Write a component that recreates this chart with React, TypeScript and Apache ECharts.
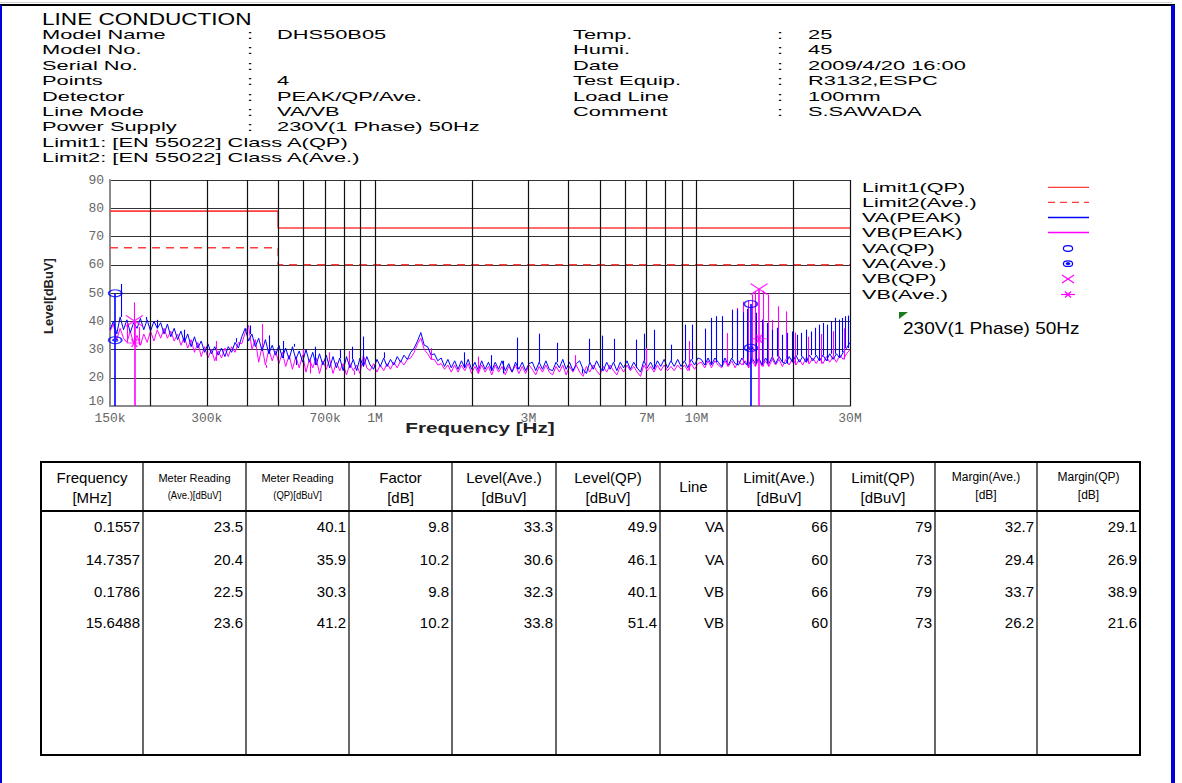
import React, { useEffect, useRef } from "react";
import * as echarts from "echarts";

// ---------------- DATA ----------------
const SWEEP_START_MHZ = 0.15;
const SWEEP_STOP_MHZ = 30;

// VA (PEAK) sweep levels, dBuV (log-spaced sweep points)
const VA_PEAK = [
  37, 40, 35.5, 41.5, 37, 40.5, 36, 39.5, 37.5, 41,
  37, 40.5, 36.5, 40, 37.5, 39.5, 35.5, 39, 34.5, 37.5,
  33.5, 36.5, 32.5, 35.5, 31, 34.5, 30.5, 33, 29, 32,
  28.5, 31, 28, 30.5, 27.5, 31, 29, 32.5, 30.5, 34.5,
  37.5, 33, 35.5, 31, 34, 29.5, 33.5, 28.5, 31.5, 28,
  31.5, 27, 30.5, 26.5, 31, 26.5, 29.5, 25.5, 30, 25.5,
  29, 24.5, 28.5, 24.5, 28, 23.5, 27.5, 23.5, 27, 22.5,
  27.5, 23.5, 26.5, 22.5, 27, 24, 27.5, 24.5, 23, 26.5,
  24, 27, 24, 26.5, 24.5, 27.5, 25.5, 28, 26.5, 29,
  30.5, 33, 36, 31.5, 31, 28, 28.5, 26, 27, 24,
  26.5, 23.5, 26, 23, 26, 23.5, 26.5, 23, 25.5, 22.5,
  26, 23, 25.5, 22.5, 25.5, 23, 26, 22.5, 25, 22,
  25.5, 23, 25.5, 22.5, 25, 25.5, 22.5, 25.5, 23, 26,
  23, 22.5, 25.5, 23.5, 26.5, 23, 25.5, 22.5, 25, 26,
  23, 21.5, 25.5, 23, 26, 23.5, 22.5, 25.5, 23, 25.5,
  22.5, 25.5, 23.5, 26, 23, 25.5, 23.5, 22, 26, 23.5,
  25.5, 23, 26, 24, 26.5, 23.5, 26, 24, 26.5, 24,
  26, 23.5, 26.5, 24.5, 27, 26.5, 24.5, 27, 24.5, 27,
  25.5, 24, 27, 24.5, 27, 25, 24.5, 27, 25, 24.5,
  27, 25, 27, 24.5, 27, 25, 27.5, 25, 27.5, 25.5,
  25, 27.5, 25.5, 28, 25.5, 27.5, 25.5, 28, 26, 28,
  26, 28, 26, 28.5, 26.5, 28.5, 27, 29, 30.5, 32.5,
];

// VB (PEAK) sweep levels, dBuV
const VB_PEAK = [
  36.5, 39, 33.5, 37.5, 34, 32.5, 36.5, 32, 35, 31.5,
  35.5, 32.5, 36.5, 33, 37, 34, 37.5, 34, 36.5, 33,
  35.5, 31.5, 34.5, 30.5, 33.5, 29, 32.5, 27.5, 31, 27,
  30, 26, 29.5, 27, 30.5, 27.5, 31, 29, 32.5, 32,
  36, 38.5, 30, 33.5, 25.5, 31, 24.5, 30, 26, 29.5,
  25, 29, 24, 28, 23, 27.5, 23.5, 28, 22, 26.5,
  23.5, 27, 21.5, 26, 23, 26.5, 21.5, 25.5, 22.5, 25,
  21, 25, 22.5, 24.5, 21.5, 28, 23.5, 22.5, 25, 22,
  24.5, 22.5, 25, 23, 25.5, 23.5, 26, 24.5, 26.5, 27,
  29, 32, 34, 30, 28.5, 26.5, 26.5, 24.5, 25, 23,
  24.5, 22, 24.5, 22, 24.5, 22.5, 25, 21.5, 24, 21.5,
  24.5, 22, 24, 21, 24.5, 22, 24, 21, 24, 22,
  24.5, 21.5, 24, 21.5, 24.5, 23, 21, 24, 22, 24.5,
  22, 21, 24, 22, 24.5, 21, 24, 22, 24.5, 22,
  20.5, 24, 22, 24.5, 22.5, 21, 24, 22, 24.5, 22.5,
  21, 24, 22, 24.5, 22.5, 24, 22, 20.5, 24.5, 22.5,
  24, 22, 24.5, 22.5, 24.5, 22.5, 24, 22.5, 24.5, 23,
  24.5, 22.5, 25, 23, 25, 25.5, 23.5, 26, 23.5, 26,
  24.5, 23.5, 26, 24, 26, 23.5, 26, 24.5, 26, 23.5,
  26, 24, 26.5, 24, 26, 24, 26.5, 24.5, 26.5, 24,
  26.5, 24.5, 27, 24.5, 26.5, 24.5, 27, 25, 27, 25,
  27, 25, 27.5, 25.5, 27.5, 25.5, 28, 26.5, 28.5, 30,
];

// narrow peaks / dips [MHz, dBuV]
const VA_SPIKES = [
  [0.163, 53.2], [0.195, 41.5], [0.21, 40.5], [0.255, 37], [0.37, 34],
  [0.41, 38.5], [0.47, 35], [0.52, 33], [0.56, 32], [0.57, 24.5],
  [0.65, 31], [0.78, 30], [0.85, 31], [0.918, 34.6], [1.07, 29],
  [1.9, 29], [2.3, 28], [2.5, 21.5], [2.77, 34.2], [3.24, 35.6],
  [3.68, 32.4], [4.4, 21.5], [4.63, 33.8], [5.08, 34.9], [5.54, 33.8],
  [6.48, 33.5], [6.86, 35.6], [7.37, 37.0], [8.33, 31.7], [9.25, 38.8],
  [9.7, 38.8], [10.62, 37.4], [11.07, 41.2], [11.55, 41.8], [12.03, 41.8],
  [12.92, 44.1], [13.42, 44.1], [13.92, 43.2], [14.42, 44.4], [15.38, 43.0],
  [16.0, 40.6], [16.6, 39.4], [17.25, 37.0], [17.88, 37.7], [18.53, 35.2],
  [19.15, 35.9], [19.9, 36.4], [20.6, 35.2], [21.2, 35.9], [22.0, 37.0],
  [22.7, 36.4], [23.4, 37.7], [24.1, 38.8], [24.8, 39.4], [25.5, 38.8],
  [26.2, 40.0], [27.0, 41.2], [27.7, 40.6], [28.4, 41.2], [29.1, 41.8],
  [29.6, 42.0],
];
const VB_SPIKES = [
  [0.17, 39.5], [0.1786, 46.7], [0.185, 38], [0.32, 33], [0.445, 39],
  [0.46, 23.5], [0.6, 30], [0.63, 21.5], [0.72, 29], [0.83, 29.5],
  [0.86, 21], [1.5, 30.5], [2.1, 27.5], [4.2, 28], [7.0, 30.5],
  [9.5, 33.0], [12.5, 35.8], [13.42, 44.7], [13.95, 46.9], [14.45, 47.5],
  [14.9, 49.5], [15.25, 50.5], [16.1, 50.8], [16.7, 49.5], [17.25, 40.5],
  [17.9, 45.3], [19.0, 43.5], [20.3, 36.0], [22.3, 34.5], [24.5, 35.5],
  [26.6, 36.5], [28.7, 37.5],
];

const LIMIT1_QP = [[0.15, 79], [0.5, 79], [0.5, 73], [30, 73]];
const LIMIT2_AVE = [[0.15, 66], [0.5, 66], [0.5, 60], [30, 60]];

const X_GRID_MHZ = [0.2, 0.3, 0.4, 0.5, 0.6, 0.7, 0.8, 0.9, 1, 2, 3, 4, 5, 6, 7, 8, 9, 10, 20, 30];
const X_LABELS_MHZ = [0.15, 0.3, 0.7, 1, 3, 7, 10, 30];
const Y_MIN = 10;
const Y_MAX = 90;
const Y_STEP = 10;

// result table
const T_FREQ = [0.1557, 14.7357, 0.1786, 15.6488];
const T_METER_AVE = [23.5, 20.4, 22.5, 23.6];
const T_METER_QP = [40.1, 35.9, 30.3, 41.2];
const T_FACTOR = [9.8, 10.2, 9.8, 10.2];
const T_LEVEL_AVE = [33.3, 30.6, 32.3, 33.8];
const T_LEVEL_QP = [49.9, 46.1, 40.1, 51.4];
const T_LINE = ["VA", "VA", "VB", "VB"];
const T_LIMIT_AVE = [66, 60, 66, 60];
const T_LIMIT_QP = [79, 73, 79, 73];
const T_MARGIN_AVE = [32.7, 29.4, 33.7, 26.2];
const T_MARGIN_QP = [29.1, 26.9, 38.9, 21.6];

const TABLE_HEAD = [
  ["Frequency", "[MHz]"],
  ["Meter Reading", "(Ave.)[dBuV]"],
  ["Meter Reading", "(QP)[dBuV]"],
  ["Factor", "[dB]"],
  ["Level(Ave.)", "[dBuV]"],
  ["Level(QP)", "[dBuV]"],
  ["Line"],
  ["Limit(Ave.)", "[dBuV]"],
  ["Limit(QP)", "[dBuV]"],
  ["Margin(Ave.)", "[dB]"],
  ["Margin(QP)", "[dB]"],
];

const HEADER_LEFT_LABELS = ["Model Name", "Model No.", "Serial No.", "Points", "Detector", "Line Mode", "Power Supply"];
const HEADER_LEFT_VALUES = ["DHS50B05", "", "", "4", "PEAK/QP/Ave.", "VA/VB", "230V(1 Phase) 50Hz"];
const HEADER_RIGHT_LABELS = ["Temp.", "Humi.", "Date", "Test Equip.", "Load Line", "Comment"];
const HEADER_RIGHT_VALUES = ["25", "45", "2009/4/20 16:00", "R3132,ESPC", "100mm", "S.SAWADA"];
const LIMIT_TEXTS = ["Limit1: [EN 55022] Class A(QP)", "Limit2: [EN 55022] Class A(Ave.)"];
const LEGEND_LABELS = ["Limit1(QP)", "Limit2(Ave.)", "VA(PEAK)", "VB(PEAK)", "VA(QP)", "VA(Ave.)", "VB(QP)", "VB(Ave.)"];

// ---------------- STYLE ----------------
const FONT = "'Liberation Sans', Arial, sans-serif";
const MONO = "'Liberation Mono', 'DejaVu Sans Mono', monospace";
const BLUE = "#0000ff";
const MAGENTA = "#ff00ff";
const RED = "#ff3c3c";

const SYM_ELLIPSE_DOT = "path://M0,5A9,5 0 1,1 18,5A9,5 0 1,1 0,5ZM6,5A3,1.6 0 1,1 12,5A3,1.6 0 1,1 6,5Z";
const SYM_X = "path://M0,0L16,10M16,0L0,10";
const SYM_AVE_STAR = "path://M0,5L16,5M5,1L11,9M11,1L5,9";

function txt(x: number, y: number, text: string, size: number, o: any = {}) {
  const align = o.align ?? "left";
  return {
    type: "text",
    x,
    y,
    scaleX: o.scaleX ?? 1,
    rotation: o.rotation ?? 0,
    silent: true,
    z: 100,
    style: {
      text,
      fontSize: size,
      fontFamily: o.family ?? FONT,
      fontWeight: o.weight ?? "normal",
      fill: o.color ?? "#000",
      textAlign: align,
      textVerticalAlign: "middle",
      align,
      verticalAlign: "middle",
    },
  };
}

function buildGraphic() {
  const g: any[] = [];
  // page frame
  g.push({ type: "rect", shape: { x: 0, y: 2, width: 1172, height: 1 }, style: { fill: "#cfcfcf" }, silent: true });
  g.push({ type: "rect", shape: { x: 0, y: 4, width: 1175, height: 2 }, style: { fill: "#000" }, silent: true });
  g.push({ type: "rect", shape: { x: 0, y: 5, width: 2, height: 778 }, style: { fill: "#0000d8" }, silent: true });
  g.push({ type: "rect", shape: { x: 1171, y: 5, width: 4, height: 778 }, style: { fill: "#0000d8" }, silent: true });

  // header
  g.push(txt(42, 19, "LINE CONDUCTION", 16.5, { scaleX: 1.37 }));
  const rowY = [35, 50.4, 65.8, 81.2, 96.6, 112, 127.4, 142.8, 158.2];
  const hs = 12;
  const hx = 1.82;
  HEADER_LEFT_LABELS.forEach((l, i) => {
    g.push(txt(42, rowY[i], l, hs, { scaleX: hx }));
    g.push(txt(247, rowY[i], ":", hs, { scaleX: hx }));
    if (HEADER_LEFT_VALUES[i]) g.push(txt(277, rowY[i], HEADER_LEFT_VALUES[i], hs, { scaleX: hx }));
  });
  LIMIT_TEXTS.forEach((l, i) => g.push(txt(42, rowY[7 + i], l, hs, { scaleX: hx })));
  HEADER_RIGHT_LABELS.forEach((l, i) => {
    g.push(txt(573, rowY[i], l, hs, { scaleX: hx }));
    g.push(txt(777, rowY[i], ":", hs, { scaleX: hx }));
    g.push(txt(808, rowY[i], HEADER_RIGHT_VALUES[i], hs, { scaleX: hx }));
  });

  // axis titles
  g.push(txt(480, 428, "Frequency [Hz]", 15, { scaleX: 1.38, weight: "bold", color: "#222", align: "center" }));
  g.push(txt(48, 296, "Level[dBuV]", 13, { rotation: Math.PI / 2, weight: "bold", color: "#222", align: "center" }));

  // legend
  const ly = [187.3, 202.3, 217.5, 232.5, 248.5, 263.7, 279, 294.5];
  LEGEND_LABELS.forEach((l, i) => g.push(txt(862, ly[i], l, 13.5, { scaleX: 1.6 })));
  const lx1 = 1048, lx2 = 1089, cx = 1068;
  g.push({ type: "line", shape: { x1: lx1, y1: ly[0], x2: lx2, y2: ly[0] }, style: { stroke: RED, lineWidth: 1.3 }, silent: true });
  g.push({ type: "line", shape: { x1: lx1, y1: ly[1], x2: lx2, y2: ly[1] }, style: { stroke: RED, lineWidth: 1.3, lineDash: [7, 5] }, silent: true });
  g.push({ type: "line", shape: { x1: lx1, y1: ly[2], x2: lx2, y2: ly[2] }, style: { stroke: BLUE, lineWidth: 1.3 }, silent: true });
  g.push({ type: "line", shape: { x1: lx1, y1: ly[3], x2: lx2, y2: ly[3] }, style: { stroke: MAGENTA, lineWidth: 1.3 }, silent: true });
  g.push({ type: "ellipse", shape: { cx, cy: ly[4], rx: 4.6, ry: 2.8 }, style: { fill: "none", stroke: BLUE, lineWidth: 1.2 }, silent: true });
  g.push({ type: "ellipse", shape: { cx, cy: ly[5], rx: 4.6, ry: 2.8 }, style: { fill: "none", stroke: BLUE, lineWidth: 1.2 }, silent: true });
  g.push({ type: "ellipse", shape: { cx, cy: ly[5], rx: 2, ry: 1.1 }, style: { fill: BLUE, stroke: BLUE, lineWidth: 0.8 }, silent: true });
  g.push({ type: "line", shape: { x1: cx - 6, y1: ly[6] - 4, x2: cx + 6, y2: ly[6] + 4 }, style: { stroke: MAGENTA, lineWidth: 1.2 }, silent: true });
  g.push({ type: "line", shape: { x1: cx + 6, y1: ly[6] - 4, x2: cx - 6, y2: ly[6] + 4 }, style: { stroke: MAGENTA, lineWidth: 1.2 }, silent: true });
  g.push({ type: "line", shape: { x1: cx - 7, y1: ly[7], x2: cx + 7, y2: ly[7] }, style: { stroke: MAGENTA, lineWidth: 1.2 }, silent: true });
  g.push({ type: "line", shape: { x1: cx - 3, y1: ly[7] - 3, x2: cx + 3, y2: ly[7] + 3 }, style: { stroke: MAGENTA, lineWidth: 1.2 }, silent: true });
  g.push({ type: "line", shape: { x1: cx + 3, y1: ly[7] - 3, x2: cx - 3, y2: ly[7] + 3 }, style: { stroke: MAGENTA, lineWidth: 1.2 }, silent: true });
  g.push({ type: "polygon", shape: { points: [[899, 312], [908, 312], [899, 319]] }, style: { fill: "#1d7a1d" }, silent: true });
  g.push(txt(903, 328, "230V(1 Phase) 50Hz", 17, { scaleX: 1.12 }));

  // table
  const colX = [41, 143, 246, 349, 452, 556, 660, 727, 831, 935, 1037, 1140];
  const tTop = 462, tHead = 511, tBot = 755;
  for (let i = 1; i < colX.length - 1; i++) {
    g.push({ type: "line", shape: { x1: colX[i], y1: tTop, x2: colX[i], y2: tBot }, style: { stroke: "#000", lineWidth: 1.2 }, silent: true });
  }
  g.push({ type: "line", shape: { x1: colX[0], y1: tHead, x2: colX[11], y2: tHead }, style: { stroke: "#000", lineWidth: 2 }, silent: true });
  g.push({ type: "rect", shape: { x: colX[0], y: tTop, width: colX[11] - colX[0], height: tBot - tTop }, style: { fill: "none", stroke: "#000", lineWidth: 2 }, silent: true });
  TABLE_HEAD.forEach((h, c) => {
    const mid = (colX[c] + colX[c + 1]) / 2;
    if (h.length === 1) {
      g.push(txt(mid, 486, h[0], 15, { align: "center" }));
    } else if (c === 1 || c === 2) {
      g.push(txt(mid, 478, h[0], 11, { align: "center" }));
      g.push(txt(mid, 495, h[1], 10, { align: "center", scaleX: 0.95 }));
    } else if (c >= 9) {
      g.push(txt(mid, 477, h[0], 12, { align: "center" }));
      g.push(txt(mid, 495, h[1], 12, { align: "center" }));
    } else {
      g.push(txt(mid, 477, h[0], 15, { align: "center" }));
      g.push(txt(mid, 497, h[1], 15, { align: "center" }));
    }
  });
  const rows = T_FREQ.map((f, r) => [
    f.toFixed(4),
    T_METER_AVE[r].toFixed(1),
    T_METER_QP[r].toFixed(1),
    T_FACTOR[r].toFixed(1),
    T_LEVEL_AVE[r].toFixed(1),
    T_LEVEL_QP[r].toFixed(1),
    T_LINE[r],
    String(T_LIMIT_AVE[r]),
    String(T_LIMIT_QP[r]),
    T_MARGIN_AVE[r].toFixed(1),
    T_MARGIN_QP[r].toFixed(1),
  ]);
  const rowYs = [526, 559, 591, 622];
  rows.forEach((row, r) =>
    row.forEach((v, c) => g.push(txt(colX[c + 1] - 3, rowYs[r], v, 15, { align: "right" })))
  );
  return g;
}

function sweepFreq(i: number, n: number) {
  return SWEEP_START_MHZ * Math.pow(SWEEP_STOP_MHZ / SWEEP_START_MHZ, i / (n - 1));
}
function nearestBase(levels: number[], f: number) {
  const n = levels.length;
  const i = Math.round((Math.log(f / SWEEP_START_MHZ) / Math.log(SWEEP_STOP_MHZ / SWEEP_START_MHZ)) * (n - 1));
  return levels[Math.max(0, Math.min(n - 1, i))];
}

function buildOption() {
  const vaData = VA_PEAK.map((v, i) => [sweepFreq(i, VA_PEAK.length), v]);
  const vbData = VB_PEAK.map((v, i) => [sweepFreq(i, VB_PEAK.length), v]);
  const spikeLines = (spikes: number[][], base: number[]) =>
    spikes.map(([f, lvl]) => [{ coord: [f, nearestBase(base, f)] }, { coord: [f, lvl] }]);
  const pick = (line: string, arr: number[]) => T_FREQ.map((f, i) => (T_LINE[i] === line ? [f, arr[i]] : null)).filter(Boolean);
  const drops = (line: string) =>
    T_FREQ.map((f, i) => (T_LINE[i] === line ? [{ coord: [f, Y_MIN] }, { coord: [f, T_LEVEL_QP[i]] }] : null)).filter(Boolean);
  const ml = (color: string, data: any[], width = 1.1) => ({
    silent: true,
    animation: false,
    symbol: ["none", "none"],
    label: { show: false },
    emphasis: { disabled: true },
    lineStyle: { color, width, type: "solid" },
    data,
  });

  return {
    animation: false,
    backgroundColor: "#ffffff",
    grid: { left: 110, top: 180, width: 740, height: 226, containLabel: false },
    xAxis: {
      type: "log",
      logBase: 10,
      min: SWEEP_START_MHZ,
      max: SWEEP_STOP_MHZ,
      axisLine: { show: true, onZero: false, lineStyle: { color: "#8a8a8a", width: 2 } },
      axisTick: { show: false },
      splitLine: { show: false },
      axisLabel: {
        customValues: X_LABELS_MHZ,
        formatter: (v: number) => (v < 1 ? `${Math.round(v * 1000)}k` : `${Math.round(v)}M`),
        fontFamily: MONO,
        fontSize: 13,
        color: "#666",
        margin: 6,
        showMinLabel: true,
        showMaxLabel: true,
        hideOverlap: false,
      },
    },
    yAxis: {
      type: "value",
      min: Y_MIN,
      max: Y_MAX,
      interval: Y_STEP,
      axisLine: { show: true, lineStyle: { color: "#8a8a8a", width: 2 } },
      axisTick: { show: false },
      splitLine: { show: true, lineStyle: { color: "#333", width: 1 } },
      axisLabel: {
        fontFamily: MONO,
        fontSize: 13,
        color: "#666",
        margin: 6,
        formatter: (v: number) => (v === Y_MIN ? `{lo|${v}}` : `${v}`),
        rich: { lo: { fontFamily: MONO, fontSize: 13, color: "#666", padding: [0, 0, 9, 0] } },
      },
    },
    graphic: buildGraphic(),
    series: [
      {
        name: "grid",
        type: "line",
        data: [],
        silent: true,
        z: 1,
        markLine: ml("#111", X_GRID_MHZ.map((v) => ({ xAxis: v })), 1.2),
      },
      {
        name: "Limit1(QP)",
        type: "line",
        data: LIMIT1_QP,
        showSymbol: false,
        symbol: "none",
        silent: true,
        z: 2,
        lineStyle: { color: RED, width: 1.6 },
      },
      {
        name: "Limit2(Ave.)",
        type: "line",
        data: LIMIT2_AVE,
        showSymbol: false,
        symbol: "none",
        silent: true,
        z: 2,
        lineStyle: { color: RED, width: 1.5, type: [8, 6] },
      },
      {
        name: "VB(PEAK)",
        type: "line",
        data: vbData,
        showSymbol: false,
        symbol: "none",
        silent: true,
        z: 3,
        lineStyle: { color: MAGENTA, width: 1 },
        markLine: ml(MAGENTA, spikeLines(VB_SPIKES, VB_PEAK)),
      },
      {
        name: "VA(PEAK)",
        type: "line",
        data: vaData,
        showSymbol: false,
        symbol: "none",
        silent: true,
        z: 4,
        lineStyle: { color: BLUE, width: 1 },
        markLine: ml(BLUE, spikeLines(VA_SPIKES, VA_PEAK)),
      },
      {
        name: "VA(QP)",
        type: "scatter",
        data: pick("VA", T_LEVEL_QP),
        symbol: "circle",
        symbolSize: [13, 7],
        silent: true,
        z: 6,
        itemStyle: { color: "rgba(0,0,0,0)", borderColor: BLUE, borderWidth: 1.4 },
        markLine: ml(BLUE, drops("VA"), 1.6),
      },
      {
        name: "VA(Ave.)",
        type: "scatter",
        data: pick("VA", T_LEVEL_AVE),
        symbol: SYM_ELLIPSE_DOT,
        symbolSize: [13, 7],
        silent: true,
        z: 6,
        itemStyle: { color: "rgba(0,0,0,0)", borderColor: BLUE, borderWidth: 1.4 },
      },
      {
        name: "VB(QP)",
        type: "scatter",
        data: pick("VB", T_LEVEL_QP),
        symbol: SYM_X,
        symbolSize: [17, 11],
        silent: true,
        z: 6,
        itemStyle: { color: "rgba(0,0,0,0)", borderColor: MAGENTA, borderWidth: 1.4 },
        markLine: ml(MAGENTA, drops("VB"), 1.6),
      },
      {
        name: "VB(Ave.)",
        type: "scatter",
        data: pick("VB", T_LEVEL_AVE),
        symbol: SYM_AVE_STAR,
        symbolSize: [15, 8],
        silent: true,
        z: 6,
        itemStyle: { color: "rgba(0,0,0,0)", borderColor: MAGENTA, borderWidth: 1.3 },
      },
    ],
  };
}

export default function App() {
  const ref = useRef<HTMLDivElement>(null);
  useEffect(() => {
    if (!ref.current) return;
    const chart = echarts.init(ref.current, undefined, { renderer: "svg" });
    chart.setOption(buildOption() as any);
    return () => chart.dispose();
  }, []);
  return (
    <div
      ref={ref}
      style={{ position: "absolute", left: 0, top: 0, width: 1182, height: 783, background: "#fff" }}
    />
  );
}
